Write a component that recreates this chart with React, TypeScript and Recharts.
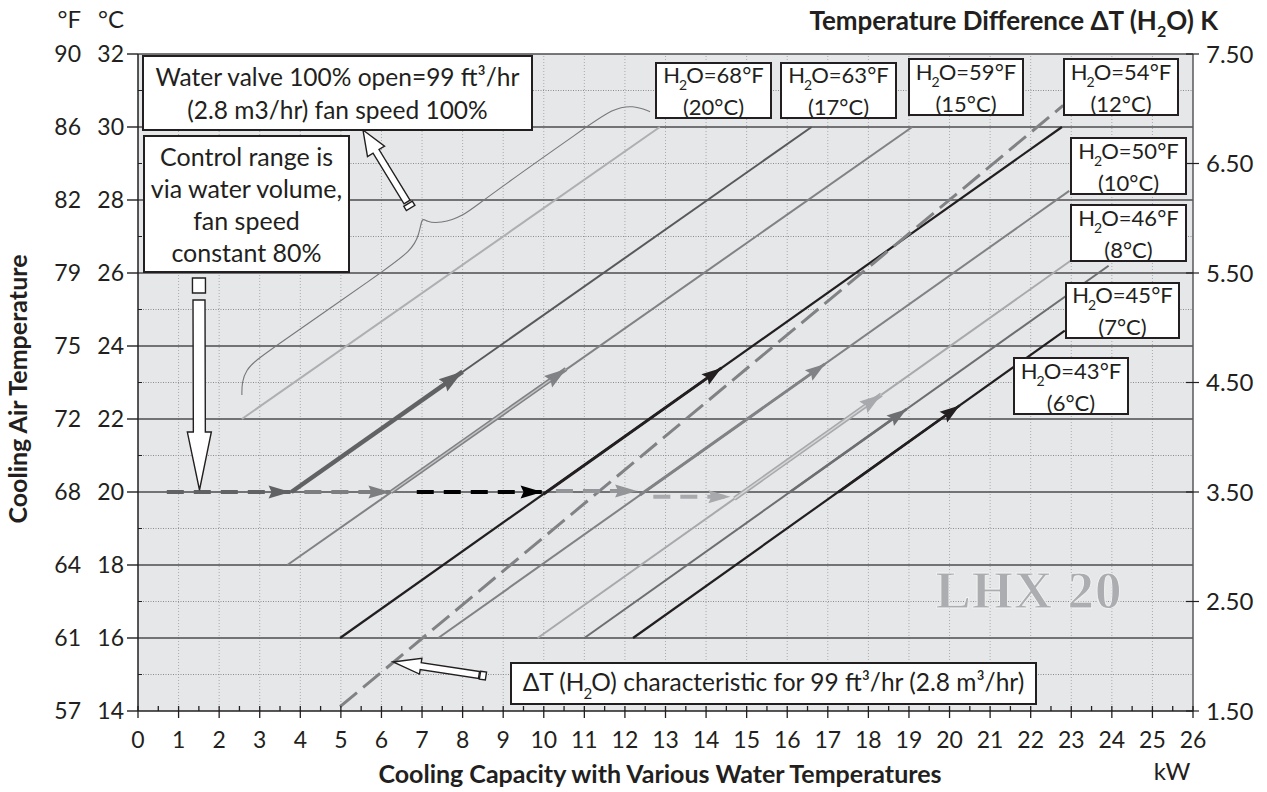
import React from "react";
import { LineChart, Line, XAxis, YAxis, CartesianGrid, ReferenceLine } from "recharts";

const W = 1267;
const H = 792;
const MARGIN = { top: 54, right: 8, bottom: 31, left: 38 };
const PLOT = { left: 138, right: 1193, top: 54, bottom: 711 };
const FONT = "Lato, 'Open Sans', sans-serif";

const INK = "#231f20";
const DARK = "#58595b";
const DARK2 = "#6d6e71";
const MID = "#808285";
const MID2 = "#939598";
const LIGHT = "#a7a9ac";
const BG = "#e6e7e8";

// axes
const KW_TICKS = [0, 1, 2, 3, 4, 5, 6, 7, 8, 9, 10, 11, 12, 13, 14, 15, 16, 17, 18, 19, 20, 21, 22, 23, 24, 25, 26];
const C_TICKS = [14, 15, 16, 17, 18, 19, 20, 21, 22, 23, 24, 25, 26, 27, 28, 29, 30, 31, 32];
const F_LABELS: Record<number, string> = { 14: "57", 16: "61", 18: "64", 20: "68", 22: "72", 24: "75", 26: "79", 28: "82", 30: "86", 32: "90" };
const K_TICKS = [1.5, 2.5, 3.5, 4.5, 5.5, 6.5, 7.5];

// water temperature characteristics [kW, °C air]
const W20 = [[2.56, 22], [12.86, 30]];
const W17 = [[3.78, 20], [16.6, 30]];
const W15 = [[3.68, 18], [19.08, 30]];
const W12 = [[4.98, 16], [22.77, 30]];
const W10 = [[7.4, 16], [22.95, 28.25]];
const W8 = [[9.85, 16], [23.0, 26.35]];
const W7 = [[11.0, 16], [23.92, 26.2]];
const W6 = [[12.2, 16], [22.84, 24.42]];

// arrows along the characteristics
const A17 = [[3.78, 20], [8.0, 23.3]];
const A15 = [[6.24, 20], [10.55, 23.37]];
const A12 = [[9.99, 19.94], [14.38, 23.4]];
const A10 = [[12.37, 19.92], [16.93, 23.51]];
const A8 = [[14.7, 19.82], [18.32, 22.67]];
const A7 = [[16.04, 19.98], [18.94, 22.27]];
const A6 = [[17.25, 19.99], [20.25, 22.37]];

// dashed steps at 20 °C
const S1 = [[0.71, 20], [3.76, 20]];
const S2 = [[4.1, 20], [6.22, 20]];
const S3 = [[6.87, 20], [9.97, 20]];
const S4 = [[10.3, 20.03], [12.3, 20.03]];
const S5 = [[12.7, 19.87], [14.6, 19.87]];

// ΔT characteristic for 2.8 m3/hr [kW, K]
const DT = [[4.98, 1.54], [22.8, 7.03]];

// brace of the 100 % valve note
const BRACE = [
  [2.56, 22.66], [2.56, 23.0], [2.66, 23.34], [2.92, 23.62], [3.34, 23.96], [5.97, 25.99],
  [6.75, 26.62], [6.93, 27.05], [7.0, 27.55], [7.1, 27.4], [7.45, 27.36], [8.0, 27.54],
  [8.5, 28.0], [11.06, 30.01], [11.7, 30.5], [12.2, 30.6], [12.62, 30.42],
];

const WATER_F = ["68", "63", "59", "54", "50", "46", "45", "43"];
const WATER_C = ["20", "17", "15", "12", "10", "8", "7", "6"];
const WATER_BOX = [
  [655, 62, 117, 57], [780, 62, 117, 57], [908, 58, 116, 58], [1063, 58, 116, 58],
  [1070, 137, 117, 58], [1070, 204, 117, 58], [1065, 282, 115, 57], [1013, 357, 116, 58],
];

const pts = (a: number[][]) => a.map(([x, y]) => ({ x, y }));

function arrowDot(color: string, data: number[][], yRange: number, len = 20, half = 6.5) {
  return (props: any) => {
    const { cx, cy, index } = props;
    if (index !== data.length - 1 || cx == null) return <g key={`a${index}`} />;
    let ang: number;
    const p = props.points;
    if (p && p.length > 1) {
      ang = Math.atan2(cy - p[index - 1].y, cx - p[index - 1].x);
    } else {
      const sx = (PLOT.right - PLOT.left) / 26;
      const sy = (PLOT.bottom - PLOT.top) / yRange;
      const [x0, y0] = data[index - 1];
      const [x1, y1] = data[index];
      ang = Math.atan2(-(y1 - y0) * sy, (x1 - x0) * sx);
    }
    const c = Math.cos(ang), s = Math.sin(ang);
    const bx = cx - c * len, by = cy - s * len;
    const q = [
      [cx, cy],
      [bx - s * half, by + c * half],
      [bx + c * 3, by + s * 3],
      [bx + s * half, by - c * half],
    ];
    return <polygon key={`a${index}`} points={q.map((v) => v.join(",")).join(" ")} fill={color} />;
  };
}

function LeftTick({ y, payload }: any) {
  const v = payload.value;
  const major = v % 2 === 0;
  if (!major) return <line x1={PLOT.left} x2={PLOT.left + 4} y1={y} y2={y} stroke={INK} strokeWidth={1} />;
  return (
    <g>
      <line x1={PLOT.left - 11} x2={PLOT.left} y1={y} y2={y} stroke={INK} strokeWidth={1.4} />
      <text x={81} y={y} dy="0.36em" textAnchor="end" fontSize={23} fill={INK} fontFamily={FONT}>{F_LABELS[v]}</text>
      <text x={124} y={y} dy="0.36em" textAnchor="end" fontSize={23} fill={INK} fontFamily={FONT}>{v}</text>
    </g>
  );
}

function RightTick({ y, payload }: any) {
  return (
    <g>
      <line x1={PLOT.right - 7} x2={PLOT.right + 6} y1={y} y2={y} stroke={INK} strokeWidth={1.2} />
      <text x={PLOT.right + 13} y={y} dy="0.36em" fontSize={24} fill={INK} fontFamily={FONT}>{payload.value.toFixed(2)}</text>
    </g>
  );
}

function KwTick({ x, payload }: any) {
  const v = payload.value;
  const major = Number.isInteger(v);
  const y0 = PLOT.bottom;
  return (
    <g>
      <line x1={x} x2={x} y1={y0 - 5} y2={major ? y0 + 7 : y0} stroke={INK} strokeWidth={1.3} />
      {major && (
        <text x={x} y={y0 + 37} textAnchor="middle" fontSize={23} fill={INK} fontFamily={FONT}>{v}</text>
      )}
    </g>
  );
}

function blockArrow(tx: number, ty: number, hx: number, hy: number, shaft: number, head: number, headLen: number) {
  const L = Math.hypot(hx - tx, hy - ty);
  const ux = (hx - tx) / L, uy = (hy - ty) / L;
  const nx = -uy, ny = ux;
  const bx = hx - ux * headLen, by = hy - uy * headLen;
  const p = [
    [tx + nx * shaft, ty + ny * shaft], [bx + nx * shaft, by + ny * shaft], [bx + nx * head, by + ny * head],
    [hx, hy], [bx - nx * head, by - ny * head], [bx - nx * shaft, by - ny * shaft], [tx - nx * shaft, ty - ny * shaft],
  ];
  return p.map((v) => v.join(",")).join(" ");
}

function tailBox(tx: number, ty: number, hx: number, hy: number, gap: number, len: number, half: number) {
  const L = Math.hypot(hx - tx, hy - ty);
  const ux = (hx - tx) / L, uy = (hy - ty) / L;
  const nx = -uy, ny = ux;
  const ax = tx - ux * gap, ay = ty - uy * gap;
  const bx = tx - ux * (gap + len), by = ty - uy * (gap + len);
  const p = [[ax + nx * half, ay + ny * half], [bx + nx * half, by + ny * half], [bx - nx * half, by - ny * half], [ax - nx * half, ay - ny * half]];
  return p.map((v) => v.join(",")).join(" ");
}

const Sub = ({ size = 14, drop = 7 }: { size?: number; drop?: number }) => (
  <span style={{ fontSize: size, position: "relative", top: drop, margin: "0 -1px 0 -1px" }}>2</span>
);

const boxStyle = (x: number, y: number, w: number, h: number, fs = 22): React.CSSProperties => ({
  position: "absolute", left: x, top: y, width: w, height: h, boxSizing: "border-box",
  border: `2px solid ${INK}`, background: "#fff", display: "flex", flexDirection: "column",
  alignItems: "center", justifyContent: "center", fontFamily: FONT, fontSize: fs, color: INK,
  whiteSpace: "nowrap",
});

export default function App() {
  const lw = (d: number[][], color: string, width: number, extra: any = {}) => ({
    data: pts(d), dataKey: "y", yAxisId: "left", type: "linear" as const, stroke: color,
    strokeWidth: width, dot: false, activeDot: false, isAnimationActive: false, ...extra,
  });
  const ah = (d: number[][], color: string, len = 20, half = 6.5) => ({ dot: arrowDot(color, d, 18, len, half) });

  return (
    <div style={{ position: "relative", width: W, height: H, background: "#fff" }}>
      <style>{"body{margin:0}"}</style>
      <LineChart width={W} height={H} margin={MARGIN} style={{ fontFamily: FONT }}>
        <CartesianGrid fill={BG} horizontal={false} vertical={false} yAxisId="left" />
        <XAxis dataKey="x" type="number" domain={[0, 26]} allowDataOverflow
          ticks={[...KW_TICKS, ...KW_TICKS.slice(0, -1).map((k) => k + 0.5)].sort((a, b) => a - b)}
          interval={0} height={50} tickLine={false} tickSize={0} tick={<KwTick />}
          axisLine={{ stroke: INK, strokeWidth: 1.5 }} />
        <YAxis yAxisId="left" type="number" domain={[14, 32]} allowDataOverflow ticks={C_TICKS}
          interval={0} width={100} tickLine={false} tickSize={0} tick={<LeftTick />}
          axisLine={{ stroke: INK, strokeWidth: 1.5 }} />
        <YAxis yAxisId="right" orientation="right" type="number" domain={[1.5, 7.5]} allowDataOverflow
          ticks={K_TICKS} interval={0} width={66} tickLine={false} tickSize={0} tick={<RightTick />}
          axisLine={{ stroke: DARK, strokeWidth: 1.5 }} />

        {KW_TICKS.slice(1, -1).map((k) => (
          <ReferenceLine key={`v${k}`} x={k} yAxisId="left" stroke="#a9abae" strokeWidth={1} strokeDasharray="1 2" />
        ))}
        {C_TICKS.slice(1).map((t) => (
          <ReferenceLine key={`h${t}`} y={t} yAxisId="left"
            stroke={t % 2 === 0 ? "#4d4d4f" : "#8a8c8e"}
            strokeWidth={t % 2 === 0 ? 1.4 : 1}
            strokeDasharray={t % 2 === 0 ? undefined : "1 1.5"} />
        ))}

        <Line {...lw(BRACE, "#77787b", 1.1, { type: "basis" })} />

        <Line {...lw(W20, "#adafb2", 2)} />
        <Line {...lw(W17, DARK, 2)} />
        <Line {...lw(W15, MID, 2)} />
        <Line {...lw(W12, INK, 2.2)} />
        <Line {...lw(W10, MID, 2)} />
        <Line {...lw(W8, LIGHT, 2)} />
        <Line {...lw(W7, DARK2, 2)} />
        <Line {...lw(W6, INK, 2.2)} />

        <Line data={pts(DT)} dataKey="y" yAxisId="right" type="linear" stroke={MID} strokeWidth={3}
          strokeDasharray="22 8" dot={false} activeDot={false} isAnimationActive={false} />

        <Line {...lw(A17, "#616264", 4.5, ah(A17, "#616264", 24, 7.5))} />
        <Line {...lw(A15, MID, 4.5)} />
        <Line {...lw(A15, "#c4c5c7", 1.4, ah(A15, MID, 22, 7))} />
        <Line {...lw(A12, INK, 3, ah(A12, INK))} />
        <Line {...lw(A10, MID, 3, ah(A10, MID))} />
        <Line {...lw(A8, LIGHT, 4.5)} />
        <Line {...lw(A8, "#d6d7d8", 1.4, ah(A8, LIGHT, 22, 7))} />
        <Line {...lw(A7, DARK2, 2.6, ah(A7, DARK2))} />
        <Line {...lw(A6, INK, 2.6, ah(A6, INK))} />

        <Line {...lw(S1, "#616264", 4, { strokeDasharray: "17 10", ...ah(S1, "#616264", 22, 6.5) })} />
        <Line {...lw(S2, "#7d7e80", 4, { strokeDasharray: "17 10", ...ah(S2, "#7d7e80", 22, 6.5) })} />
        <Line {...lw(S3, "#000", 4, { strokeDasharray: "17 10", ...ah(S3, "#000", 22, 6.5) })} />
        <Line {...lw(S4, MID2, 4, { strokeDasharray: "17 10", ...ah(S4, MID2, 22, 6.5) })} />
        <Line {...lw(S5, LIGHT, 4, { strokeDasharray: "17 10", ...ah(S5, LIGHT, 22, 6.5) })} />
      </LineChart>

      <svg width={W} height={H} style={{ position: "absolute", left: 0, top: 0, pointerEvents: "none" }} fontFamily={FONT}>
        <text x={81} y={28} textAnchor="end" fontSize={24} fill={INK}>°F</text>
        <text x={124} y={28} textAnchor="end" fontSize={24} fill={INK}>°C</text>
        <text x={1218} y={30} textAnchor="end" fontSize={26} fontWeight={700} fill={INK}>
          Temperature Difference ΔT (H<tspan fontSize={16} dy={7}>2</tspan><tspan dy={-7}>O) K</tspan>
        </text>
        <text transform="translate(27,389) rotate(-90)" textAnchor="middle" fontSize={25} fontWeight={700} fill={INK}>
          Cooling Air Temperature
        </text>
        <text x={660} y={783} textAnchor="middle" fontSize={25} fontWeight={700} fill={INK}>
          Cooling Capacity with Various Water Temperatures
        </text>
        <text x={1172} y={780} textAnchor="middle" fontSize={24} fill={INK}>kW</text>
        <text x={1029} y={608} textAnchor="middle" fontSize={53} fontWeight={700}
          fontFamily="'Liberation Serif', 'DejaVu Serif', serif"
          fill="#abadb0" stroke="#f2f2f2" strokeWidth={0.9} letterSpacing={1}>LHX 20</text>

        <g fill="#fff" stroke={INK} strokeWidth={1.4} strokeLinejoin="miter">
          <polygon points={blockArrow(407, 202, 363, 130, 3.5, 10, 25)} />
          <polygon points={tailBox(407, 202, 363, 130, 2, 5, 5)} />
          <polygon points={blockArrow(199, 300, 199.5, 490, 6, 12, 58)} />
          <polygon points={tailBox(199, 300, 199.5, 490, 7, 15, 6.5)} />
          <polygon points={blockArrow(479, 675, 393, 662, 3.5, 8, 28)} />
          <polygon points={tailBox(479, 675, 393, 662, 1, 6, 4)} />
        </g>
      </svg>

      <div style={{ ...boxStyle(142, 55, 391, 76, 24.5), lineHeight: "33px" }}>
        <div>Water valve 100% open=99 ft³/hr</div>
        <div>(2.8 m3/hr) fan speed 100%</div>
      </div>
      <div style={{ ...boxStyle(143, 135, 207, 138, 25), lineHeight: "32px" }}>
        <div>Control range is</div>
        <div>via water volume,</div>
        <div>fan speed</div>
        <div>constant 80%</div>
      </div>
      {WATER_BOX.map(([x, y, w, h], i) => (
        <div key={i} style={{ ...boxStyle(x, y, w, h, 22), lineHeight: "29px" }}>
          <div>H<Sub />O={WATER_F[i]}°F</div>
          <div>({WATER_C[i]}°C)</div>
        </div>
      ))}
      <div style={{ ...boxStyle(510, 662, 527, 43, 24.5), lineHeight: "30px" }}>
        <div>ΔT (H<Sub size={15} drop={8} />O) characteristic for 99 ft³/hr (2.8 m³/hr)</div>
      </div>
    </div>
  );
}
